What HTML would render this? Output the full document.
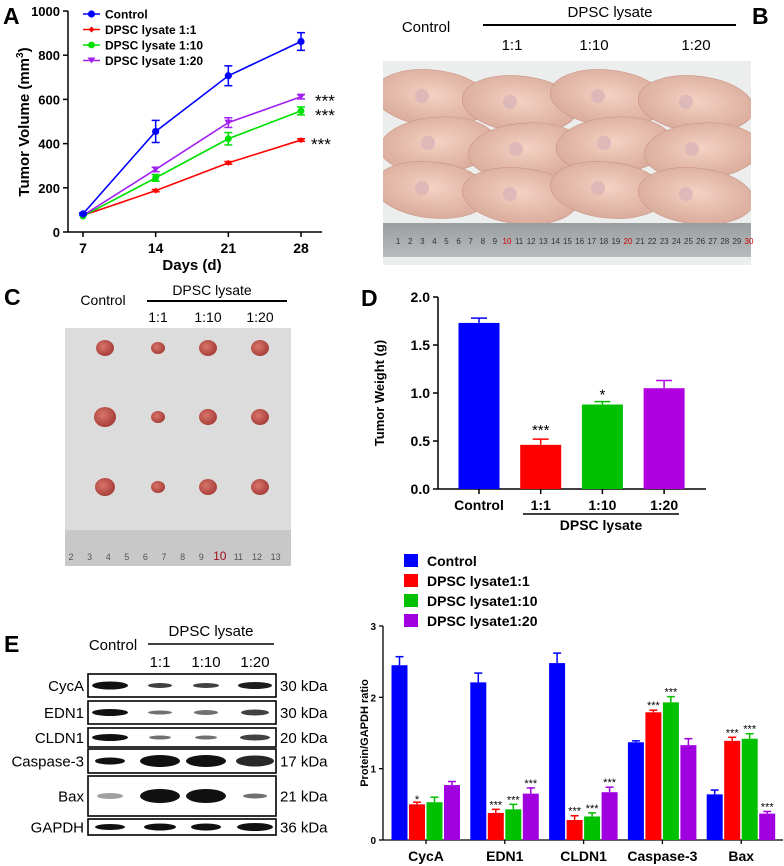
<!DOCTYPE html>
<html><head><meta charset="utf-8"><style>
body{margin:0;background:#fff}
svg{display:block;font-family:"Liberation Sans",Arial,sans-serif}
</style></head><body>
<svg id="fig" width="784" height="866" viewBox="0 0 784 866" xmlns="http://www.w3.org/2000/svg">
<defs>
<linearGradient id="ruler" x1="0" y1="0" x2="0" y2="1"><stop offset="0" stop-color="#9a9ea0"/><stop offset="1" stop-color="#b8bcbd"/></linearGradient>
<radialGradient id="mouse" cx="0.5" cy="0.45" r="0.6"><stop offset="0" stop-color="#f3d2c2"/><stop offset="1" stop-color="#d8a898"/></radialGradient>
<radialGradient id="tumor" cx="0.4" cy="0.4" r="0.6"><stop offset="0" stop-color="#d9766a"/><stop offset="1" stop-color="#a83f3a"/></radialGradient>
<clipPath id="photoB"><rect x="383" y="61" width="368" height="204"/></clipPath>
</defs>
<text x="3" y="24" font-size="23" font-weight="bold">A</text>
<text x="752" y="24" font-size="23" font-weight="bold">B</text>
<text x="4" y="305" font-size="23" font-weight="bold">C</text>
<text x="361" y="306" font-size="23" font-weight="bold">D</text>
<text x="4" y="652" font-size="23" font-weight="bold">E</text>

<g id="panelA"></g>

<g>
<text x="426" y="32" font-size="15" text-anchor="middle">Control</text>
<text x="610" y="17" font-size="15" text-anchor="middle">DPSC lysate</text>
<line x1="483" y1="25" x2="736" y2="25" stroke="#000" stroke-width="2"/>
<text x="512" y="50" font-size="15" text-anchor="middle">1:1</text>
<text x="594" y="50" font-size="15" text-anchor="middle">1:10</text>
<text x="696" y="50" font-size="15" text-anchor="middle">1:20</text>
<rect x="383" y="61" width="368" height="204" fill="#eceeed"/>
<g id="mice" clip-path="url(#photoB)"></g>
<rect x="383" y="223" width="368" height="34" fill="url(#ruler)"/>
<g id="rulerB" font-size="8" fill="#333"></g>
</g>

<g>
<text x="103" y="305" font-size="14" text-anchor="middle">Control</text>
<text x="212" y="295" font-size="14" text-anchor="middle">DPSC lysate</text>
<line x1="147" y1="301" x2="287" y2="301" stroke="#000" stroke-width="2"/>
<text x="158" y="322" font-size="14" text-anchor="middle">1:1</text>
<text x="208" y="322" font-size="14" text-anchor="middle">1:10</text>
<text x="260" y="322" font-size="14" text-anchor="middle">1:20</text>
<rect x="65" y="328" width="226" height="238" fill="#dcdcdc"/>
<g id="tumors"></g>
<rect x="65" y="530" width="226" height="36" fill="#c8c8c8"/>
<g id="rulerC" font-size="9" fill="#555"></g>
</g>

<g id="panelD"></g>

<g id="blot">
<text x="113" y="650" font-size="15" text-anchor="middle">Control</text>
<text x="211" y="636" font-size="15" text-anchor="middle">DPSC lysate</text>
<line x1="148" y1="644" x2="274" y2="644" stroke="#000" stroke-width="1.5"/>
<text x="160" y="667" font-size="15" text-anchor="middle">1:1</text>
<text x="206" y="667" font-size="15" text-anchor="middle">1:10</text>
<text x="255" y="667" font-size="15" text-anchor="middle">1:20</text>
</g>

<g id="panelE"></g>
</svg>
<script>
const NS="http://www.w3.org/2000/svg";
function mk(parent,tag,attrs,text){const e=document.createElementNS(NS,tag);for(const k in attrs)e.setAttribute(k,attrs[k]);if(text!==undefined)e.textContent=text;parent.appendChild(e);return e;}

const daysA=[7,14,21,28];
const seriesNamesA=["Control","DPSC lysate 1:1","DPSC lysate 1:10","DPSC lysate 1:20"];
const controlA=[82,455,707,862];
const lys1A=[75,187,313,416];
const lys10A=[72,245,422,548];
const lys20A=[75,283,495,612];
const controlErrA=[5,50,45,40];
const lys1ErrA=[3,5,6,6];
const lys10ErrA=[3,15,28,18];
const lys20ErrA=[3,10,22,10];
const yTicksA=[0,200,400,600,800,1000];
const sigA=["","***","***","***"];
(function(){
 const g=document.getElementById('panelA');
 const colors=["#0000ff","#ff0000","#00e000","#a020f0"];
 const vals=[controlA,lys1A,lys10A,lys20A], errs=[controlErrA,lys1ErrA,lys10ErrA,lys20ErrA];
 const x=d=>83+(d-7)/(28-7)*(301-83);
 const y=v=>232-v/1000*(232-11);
 mk(g,'line',{x1:68,y1:11,x2:68,y2:232,stroke:'#000','stroke-width':1.5});
 mk(g,'line',{x1:68,y1:232,x2:322,y2:232,stroke:'#000','stroke-width':1.5});
 yTicksA.forEach(t=>{mk(g,'line',{x1:63,y1:y(t),x2:68,y2:y(t),stroke:'#000','stroke-width':1.5});
  const tl=mk(g,'text',{x:60,y:y(t)+5,'font-size':13,'font-weight':'bold','text-anchor':'end'},t);
  });
 daysA.forEach(d=>{mk(g,'line',{x1:x(d),y1:232,x2:x(d),y2:237,stroke:'#000','stroke-width':1.5});
  const tl=mk(g,'text',{x:x(d),y:253,'font-size':14,'font-weight':'bold','text-anchor':'middle'},d);
  });
 const xt=mk(g,'text',{x:192,y:270,'font-size':15,'font-weight':'bold','text-anchor':'middle'},'Days (d)');
 
 const yt=mk(g,'text',{transform:'translate(29,122) rotate(-90)','font-size':15,'font-weight':'bold','text-anchor':'middle'});
 
 yt.innerHTML='Tumor Volume (mm<tspan dy="-6" font-size="10">3</tspan><tspan dy="6">)</tspan>';
 function marker(p,i,cx,cy){
  if(i===0) return mk(p,'circle',{cx,cy,r:3.6,fill:colors[i]});
  if(i===1) return mk(p,'path',{d:`M${cx-3},${cy}L${cx},${cy-3}L${cx+3},${cy}L${cx},${cy+3}Z`,fill:colors[i]});
  if(i===2) return mk(p,'circle',{cx,cy,r:3.4,fill:colors[i]});
  return mk(p,'path',{d:`M${cx-4},${cy-3}L${cx+4},${cy-3}L${cx},${cy+3}Z`,fill:colors[i]});
 }
 [1,2,3,0].forEach(i=>{
  const s=mk(g,'g',{});
  
  
  mk(s,'polyline',{points:daysA.map((d,j)=>x(d)+','+y(vals[i][j])).join(' '),fill:'none',stroke:colors[i],'stroke-width':1.6});
  daysA.forEach((d,j)=>{const v=vals[i][j],e=errs[i][j];
   if(e>4){mk(s,'line',{x1:x(d),y1:y(v-e),x2:x(d),y2:y(v+e),stroke:colors[i],'stroke-width':1.5});
    mk(s,'line',{x1:x(d)-4,y1:y(v+e),x2:x(d)+4,y2:y(v+e),stroke:colors[i],'stroke-width':1.5});
    mk(s,'line',{x1:x(d)-4,y1:y(v-e),x2:x(d)+4,y2:y(v-e),stroke:colors[i],'stroke-width':1.5});}
   const m=marker(s,i,x(d),y(v));});
  if(sigA[i]){const st=mk(g,'text',{x:x(28)+(i===1?10:14),y:y(vals[i][3])+10,'font-size':17},sigA[i]);
   }
 });
 seriesNamesA.forEach((n,i)=>{const ly=14+i*15.5;
  const le=mk(g,'g',{});
  mk(le,'line',{x1:83,y1:ly,x2:100,y2:ly,stroke:colors[i],'stroke-width':1.6});marker(le,i,91.5,ly);
  mk(le,'text',{x:105,y:ly+4.5,'font-size':12,'font-weight':'bold'},n);});
})();

(function(){
 const m=document.getElementById('mice');
 for(let r=0;r<3;r++)for(let c=0;c<4;c++){
  const cx=432+c*88+(r%2)*6, cy=[98,145,190][r]+(c%2?6:0);
  const e=mk(m,'ellipse',{cx,cy,rx:58,ry:28,fill:'url(#mouse)',stroke:'#c99585','stroke-width':0.6,transform:`rotate(${r===1?-4:6} ${cx} ${cy})`});
  
  mk(m,'circle',{cx:cx-10,cy:cy-2,r:7,fill:'#d8b4b8',opacity:0.8});
 }
 const rb=document.getElementById('rulerB');
 for(let i=1;i<=30;i++){mk(rb,'text',{x:386+i*12.1,y:244,'text-anchor':'middle',fill:(i%10===0)?'#c00':'#333'},i);}
 const tu=document.getElementById('tumors');
 const sizes=[[8,6,8,8],[10,6,8,8],[9,6,8,8]];
 [105,158,208,260].forEach((cx,c)=>[348,417,487].forEach((cy,r)=>{
  const t=mk(tu,'ellipse',{cx,cy,rx:sizes[r][c]+1,ry:sizes[r][c],fill:'url(#tumor)'});
  }));
 const rc=document.getElementById('rulerC');
 for(let i=2;i<=13;i++)mk(rc,'text',{x:71+(i-2)*18.6,y:560,'text-anchor':'middle',fill:i===10?'#a01020':'#555','font-size':i===10?12:9},i);
})();

const catsD=["Control","1:1","1:10","1:20"];
const weightD=[1.73,0.46,0.88,1.05];
const weightErrD=[0.05,0.06,0.03,0.08];
const sigD=["","***","*",""];
const yTicksD=[0,0.5,1.0,1.5,2.0];
(function(){
 const g=document.getElementById('panelD');
 const colors=["#0000ff","#ff0000","#00c000","#b000e0"];
 const y=v=>489-v/2*(489-297);
 const x=i=>479+i*61.7;
 mk(g,'line',{x1:438,y1:297,x2:438,y2:489,stroke:'#000','stroke-width':1.5});
 mk(g,'line',{x1:438,y1:489,x2:706,y2:489,stroke:'#000','stroke-width':1.5});
 yTicksD.forEach(t=>{mk(g,'line',{x1:433,y1:y(t),x2:438,y2:y(t),stroke:'#000','stroke-width':1.5});
  const tl=mk(g,'text',{x:430,y:y(t)+5,'font-size':14,'font-weight':'bold','text-anchor':'end'},t.toFixed(1));
  });
 catsD.forEach((c,i)=>{const v=weightD[i],e=weightErrD[i];
  mk(g,'line',{x1:x(i),y1:y(v),x2:x(i),y2:y(v+e),stroke:colors[i],'stroke-width':1.5});
  mk(g,'line',{x1:x(i)-8,y1:y(v+e),x2:x(i)+8,y2:y(v+e),stroke:colors[i],'stroke-width':1.5});
  const b=mk(g,'rect',{x:x(i)-20.5,y:y(v),width:41,height:489-y(v),fill:colors[i]});
  
  mk(g,'line',{x1:x(i),y1:489,x2:x(i),y2:494,stroke:'#000','stroke-width':1.5});
  const tl=mk(g,'text',{x:x(i),y:510,'font-size':14,'font-weight':'bold','text-anchor':'middle'},c);
  
  if(sigD[i]){const s=mk(g,'text',{x:x(i),y:y(v+e)-4+(sigD[i]==='*'?2:0),'font-size':15,'text-anchor':'middle'},sigD[i]);
   }
 });
 mk(g,'line',{x1:523,y1:514,x2:679,y2:514,stroke:'#000','stroke-width':1.5});
 const gl=mk(g,'text',{x:601,y:530,'font-size':14,'font-weight':'bold','text-anchor':'middle'},'DPSC lysate');
 
 const yt=mk(g,'text',{transform:'translate(384,393) rotate(-90)','font-size':13,'font-weight':'bold','text-anchor':'middle'},'Tumor Weight (g)');
 
})();

const blotProteins=["CycA","EDN1","CLDN1","Caspase-3","Bax","GAPDH"];
const blotKda=["30 kDa","30 kDa","20 kDa","17 kDa","21 kDa","36 kDa"];
(function(){
 const g=document.getElementById('blot');
 const boxes=[[674,697],[701,724],[728,747],[749,773],[776,816],[819,835]];
 const lanes=[110,160,206,255];
 const bandW=[[36,24,26,34],[36,24,24,28],[36,22,22,30],[30,40,40,38],[26,40,40,24],[30,32,30,36]];
 const bandH=[[8,5,5,7],[7,4,5,6],[7,4,4,6],[7,12,12,11],[6,14,14,5],[6,7,7,8]];
 const bandC=[[1,.8,.8,.95],[1,.6,.6,.8],[1,.6,.6,.8],[1,1,1,.9],[.4,1,1,.6],[1,1,1,1]];
 blotProteins.forEach((p,r)=>{const [t,b]=boxes[r];const cy=(t+b)/2;
  const row=mk(g,'g',{});
  mk(row,'rect',{x:88,y:t,width:188,height:b-t,fill:'#fff',stroke:'#000','stroke-width':1.6});
  lanes.forEach((lx,j)=>mk(row,'ellipse',{cx:lx,cy,rx:bandW[r][j]/2,ry:bandH[r][j]/2,fill:'#111','fill-opacity':bandC[r][j]}));
  mk(row,'text',{x:84,y:cy+5.5,'font-size':15,'text-anchor':'end'},p);
  mk(row,'text',{x:280,y:cy+5.5,'font-size':15},blotKda[r]);
 });
})();

const catsE=["CycA","EDN1","CLDN1","Caspase-3","Bax"];
const seriesE=["Control","DPSC lysate1:1","DPSC lysate1:10","DPSC lysate1:20"];
const controlE=[2.45,2.21,2.48,1.37,0.64];
const lys1E=[0.50,0.38,0.28,1.79,1.39];
const lys10E=[0.53,0.43,0.33,1.93,1.42];
const lys20E=[0.77,0.65,0.67,1.33,0.37];
const controlErrE=[0.12,0.13,0.14,0.02,0.06];
const lys1ErrE=[0.03,0.05,0.06,0.03,0.05];
const lys10ErrE=[0.07,0.07,0.05,0.08,0.07];
const lys20ErrE=[0.05,0.08,0.07,0.09,0.03];
const sig1E=["*","***","***","***","***"];
const sig10E=["","***","***","***","***"];
const sig20E=["","***","***","","***"];
const yTicksE=[0,1,2,3];
(function(){
 const g=document.getElementById('panelE');
 const colors=["#0000ff","#ff0000","#00c000","#a000e0"];
 const vals=[controlE,lys1E,lys10E,lys20E],errs=[controlErrE,lys1ErrE,lys10ErrE,lys20ErrE],sigs=[null,sig1E,sig10E,sig20E];
 const y=v=>840-v/3*(840-626);
 const gx=i=>426+i*78.8;
 const offs=[-26.5,-9,8.5,26];
 mk(g,'line',{x1:383,y1:626,x2:383,y2:840,stroke:'#000','stroke-width':1.3});
 mk(g,'line',{x1:383,y1:840,x2:783,y2:840,stroke:'#000','stroke-width':1.3});
 yTicksE.forEach(t=>{mk(g,'line',{x1:379,y1:y(t),x2:383,y2:y(t),stroke:'#000','stroke-width':1.3});
  const tl=mk(g,'text',{x:376,y:y(t)+4,'font-size':10,'font-weight':'bold','text-anchor':'end'},t);
  });
 catsE.forEach((c,i)=>{
  mk(g,'line',{x1:gx(i),y1:840,x2:gx(i),y2:844,stroke:'#000','stroke-width':1.3});
  const tl=mk(g,'text',{x:gx(i),y:861,'font-size':14,'font-weight':'bold','text-anchor':'middle'},c);
  
  vals.forEach((sv,k)=>{const v=sv[i],e=errs[k][i],bx=gx(i)+offs[k];
   mk(g,'line',{x1:bx,y1:y(v),x2:bx,y2:y(v+e),stroke:colors[k],'stroke-width':1.5});
   mk(g,'line',{x1:bx-4,y1:y(v+e),x2:bx+4,y2:y(v+e),stroke:colors[k],'stroke-width':1.5});
   const b=mk(g,'rect',{x:bx-8,y:y(v),width:16,height:840-y(v),fill:colors[k]});
   
   if(sigs[k]&&sigs[k][i]){const s=mk(g,'text',{x:bx,y:y(v+e)-1+(sigs[k][i]==='*'?2:0),'font-size':11,'text-anchor':'middle'},sigs[k][i]);
    }
  });
 });
 seriesE.forEach((n,k)=>{const ly=561+k*20;
  const le=mk(g,'g',{});
  mk(le,'rect',{x:404,y:ly-7,width:14,height:13,fill:colors[k]});
  mk(le,'text',{x:427,y:ly+5,'font-size':14,'font-weight':'bold'},n);});
 const yt=mk(g,'text',{transform:'translate(368,733) rotate(-90)','font-size':11,'font-weight':'bold','text-anchor':'middle'},'Protein/GAPDH ratio');
 
})();
</script>
</body></html>
